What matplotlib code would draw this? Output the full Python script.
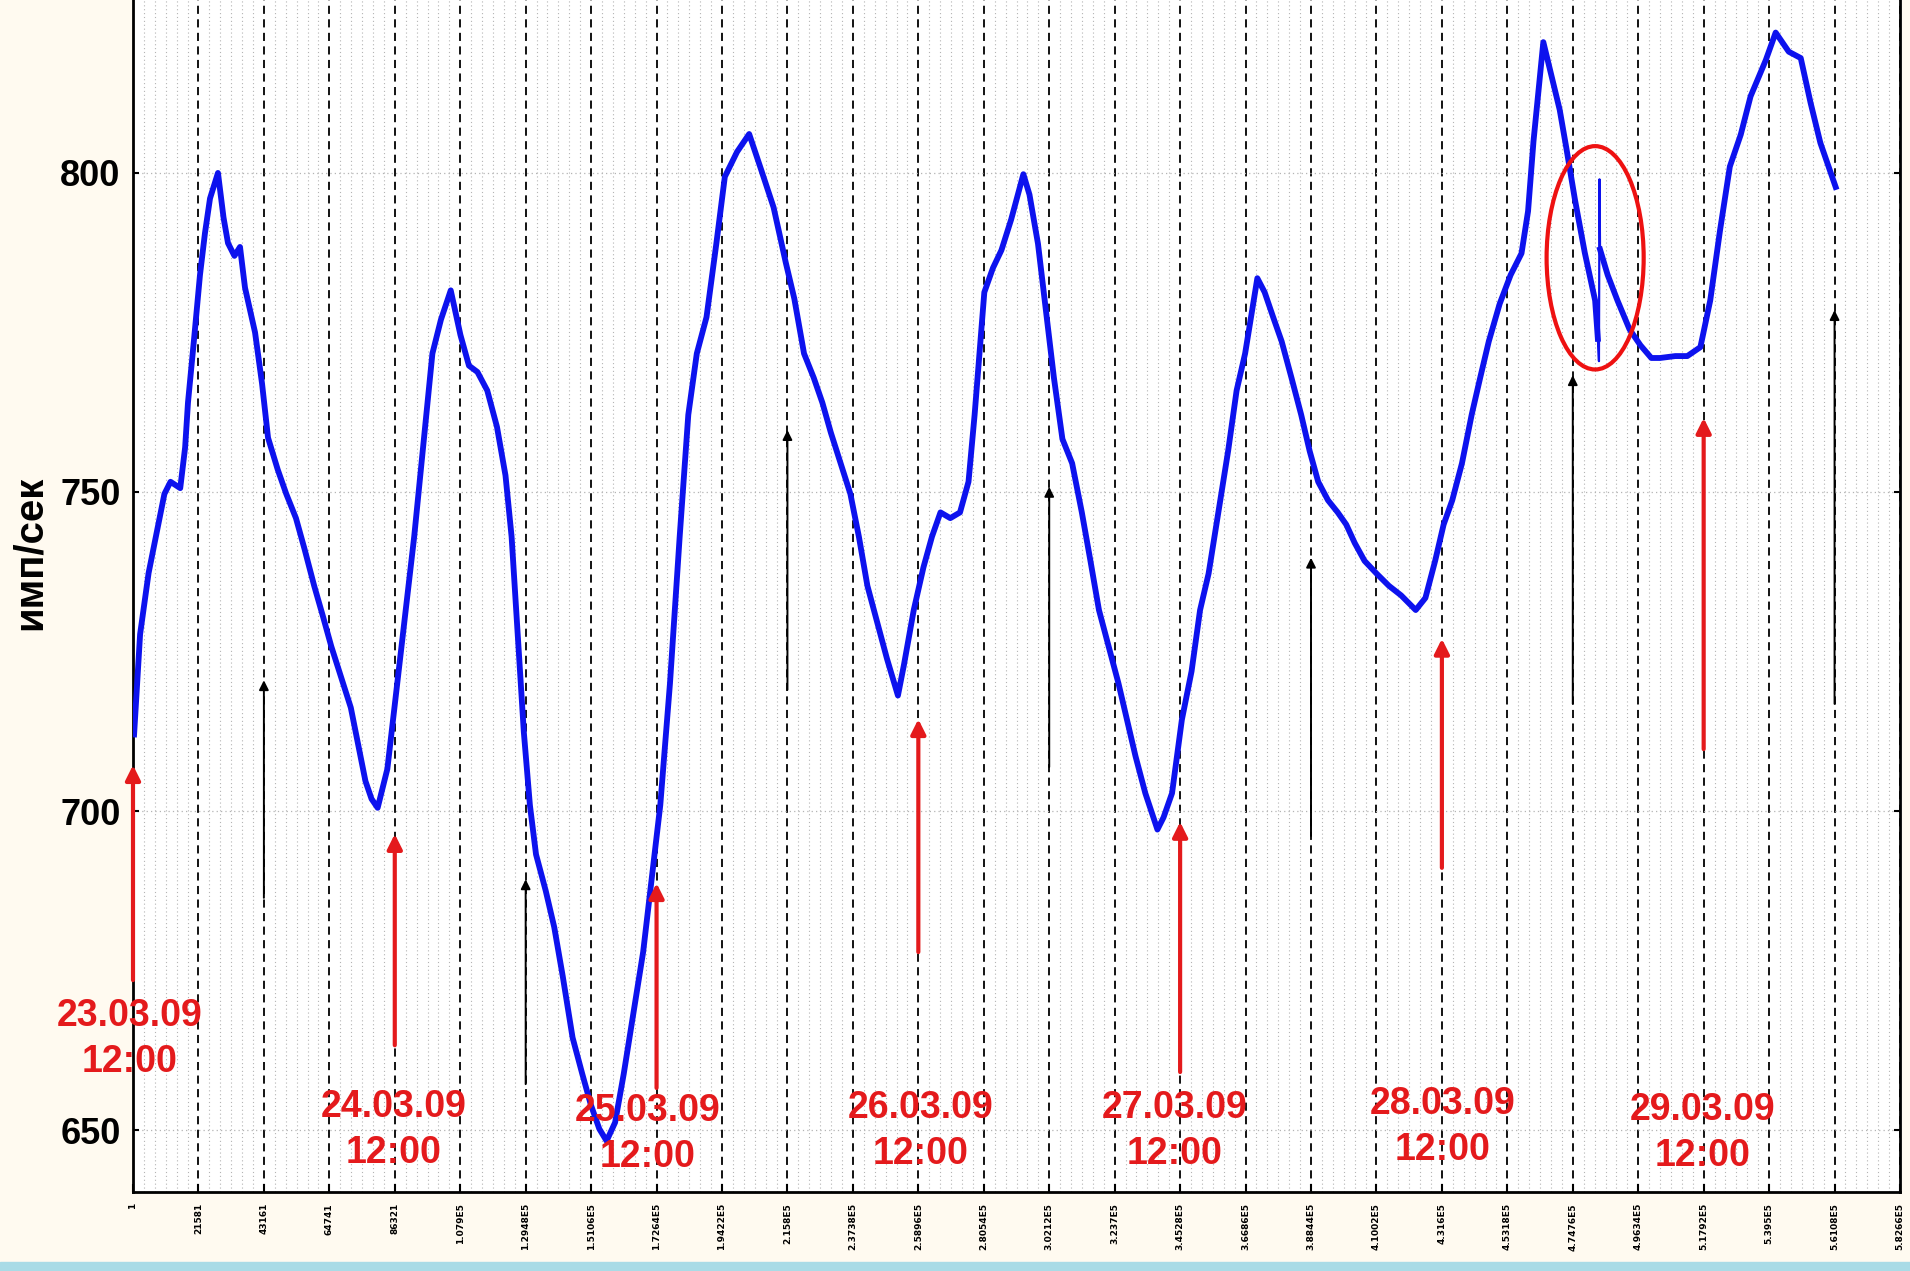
import matplotlib
matplotlib.use("Agg")
import matplotlib.pyplot as plt
from matplotlib.patches import Ellipse, Rectangle
from matplotlib.ticker import MultipleLocator, FixedLocator

plt.rcParams["font.family"] = ["Liberation Sans", "DejaVu Sans"]

nan = float("nan")

# hours since 23.03.09 12:00, count rate (imp/sec); nan marks the short spike drawn thin below
hours = [
    0.1, 0.65, 1.43, 2.32, 2.88, 3.44, 4.33, 4.78, 5.04, 5.6, 6.14, 6.6, 7.06, 7.79, 8.3, 8.71,
    9.3, 9.81, 10.27, 11.19, 11.83, 12.38, 13.27, 14.05, 14.94, 15.72, 16.61, 17.4, 18.18, 19.07,
    19.97, 20.75, 21.31, 21.87, 22.43, 23.32, 24.1, 24.88, 25.78, 26.67, 27.45, 28.23, 29.13, 30.02,
    30.8, 31.58, 32.48, 33.37, 34.15, 34.71, 35.27, 35.83, 36.39, 36.95, 37.84, 38.62, 39.4, 40.3,
    41.19, 41.97, 42.75, 43.42, 44.2, 44.99, 45.88, 46.77, 47.56, 48.34, 49.23, 50.12, 50.91, 51.69,
    52.58, 53.48, 54.26, 55.38, 56.49, 57.61, 58.73, 59.84, 60.63, 61.52, 62.41, 63.2, 63.98, 64.87,
    65.77, 66.55, 67.33, 68.23, 69.12, 70.13, 70.68, 71.58, 72.47, 73.25, 74.03, 74.93, 75.82, 76.6,
    77.16, 78.05, 78.84, 79.62, 80.51, 81.63, 82.19, 82.97, 83.64, 84.43, 85.21, 86.1, 86.99, 87.78,
    88.56, 89.45, 90.35, 91.13, 91.91, 92.81, 93.92, 94.48, 95.26, 96.16, 97.05, 97.83, 98.61, 99.51,
    100.4, 101.18, 101.96, 103.08, 103.75, 104.53, 105.31, 106.21, 107.1, 107.88, 108.66, 109.56,
    110.45, 111.23, 112.01, 112.91, 114.02, 115.14, 116.26, 117.6, 118.49, 119.38, 120.16, 120.95,
    121.84, 122.73, 123.51, 124.3, 125.3, 126.3, 127.3, 127.9, 128.4, 129.3, 130.8, 131.4, 132.2,
    133.1, 134.05, 134.3, nan, 134.5, 135.2, 136.1, 137.2, 138.2, 139.2, 140.0, 141.4,
    142.5, 143.7, 144.6, 145.5, 146.4, 147.4, 148.3, 149.7, 150.6, 151.8, 152.9, 153.8, 154.7, 156.1,
]
rate = [
    712.0, 727.7, 737.3, 744.9, 749.7, 751.6, 750.6, 757.0, 764.0, 774.0, 784.0, 790.6, 796.0, 800.0, 793.0, 789.0,
    787.0, 788.4, 782.0, 775.0, 767.0, 758.5, 753.5, 749.7, 745.9, 741.1, 735.3, 730.6, 725.8, 721.0,
    716.2, 709.5, 704.7, 701.9, 700.5, 706.6, 718.1, 729.6, 743.0, 758.3, 771.7, 777.0, 781.6, 774.6,
    769.8, 768.8, 765.9, 760.2, 752.6, 743.0, 727.7, 712.4, 700.9, 693.2, 687.5, 681.8, 674.1, 664.5,
    658.8, 654.0, 650.2, 648.3, 651.2, 658.8, 668.4, 677.9, 689.4, 700.9, 720.0, 743.0, 762.1, 771.7,
    777.4, 788.9, 799.4, 803.3, 806.1, 800.4, 794.6, 786.0, 780.3, 771.7, 767.9, 764.0, 759.3, 754.5,
    749.7, 743.0, 735.3, 729.6, 723.9, 718.1, 722.9, 731.5, 738.2, 743.0, 746.8, 745.9, 746.8, 751.6,
    762.1, 781.3, 785.1, 787.9, 792.7, 799.8, 796.6, 788.9, 779.3, 767.9, 758.3, 754.5, 746.8, 739.2,
    731.5, 725.8, 720.0, 714.3, 708.6, 702.8, 697.1, 699.0, 702.8, 714.3, 721.9, 731.5, 737.2, 746.8,
    756.4, 765.9, 771.7, 783.5, 781.3, 777.4, 773.6, 767.9, 762.1, 756.4, 751.6, 748.7,
    746.8, 744.9, 742.0, 739.2, 737.2, 735.3, 733.8, 731.5, 733.4, 739.2, 744.9, 748.7,
    754.5, 762.1, 767.9, 773.6, 779.5, 784.0, 787.4, 794.0, 805.0, 820.5, 809.9, 804.0, 795.8,
    787.5, 780.0, 774.0, nan, 788.0, 784.0, 780.0, 775.5, 773.0, 771.0, 771.0, 771.3,
    771.3, 772.7, 780.0, 791.0, 801.0, 806.0, 812.0, 817.7, 822.0, 819.0, 818.0, 811.0, 804.7, 797.8,
]

# short spike inside the red ellipse
spike_hours = [134.3, 134.4, 134.45, 134.5]
spike_rate = [774.0, 770.5, 799.0, 788.0]

# arrows: red at 12:00, black at 00:00 (hours, start value, tip value)
red_arrow_h = [0, 24, 48, 72, 96, 120, 144]
red_arrow_from = [673.5, 663.3, 656.6, 677.9, 659.1, 691.1, 709.7]
red_arrow_to = [707.2, 696.4, 688.7, 714.4, 698.3, 727.0, 761.6]
black_arrow_h = [12, 36, 60, 84, 108, 132, 156]
black_arrow_from = [686.4, 657.2, 719.0, 706.9, 696.1, 716.8, 716.8]
black_arrow_to = [720.5, 689.3, 759.7, 750.8, 739.7, 768.3, 778.5]

date_labels = ["23.03.09", "24.03.09", "25.03.09", "26.03.09", "27.03.09", "28.03.09", "29.03.09"]
date_label_h = [-0.3, 23.9, 47.2, 72.2, 95.5, 120.1, 143.9]
date_label_y = [664.3, 650.0, 649.4, 649.8, 649.8, 650.5, 649.5]

samples_per_tick = 21580
tick_hours = 6

W, H = 1910, 1271
fig = plt.figure(figsize=(W / 100, H / 100), dpi=100, facecolor="#fffaf0")
fig.patches.append(Rectangle((0, 0), 1, 9 / H, transform=fig.transFigure, color="#a9dbe6", zorder=0))
ax = fig.add_axes([133 / W, 79 / H, (1900 - 133) / W, 1192 / H])
ax.set_facecolor("white")

ax.set_xlim(0, 162)
ax.set_ylim(640.3, 827.1)

ax.xaxis.set_minor_locator(MultipleLocator(tick_hours / 6))
ax.yaxis.set_major_locator(FixedLocator([650, 700, 750, 800]))


def sample_label(h):
    v = 1 + round(h / tick_hours) * samples_per_tick
    if v < 100000:
        return str(v)
    return f"{v / 1e5:.5g}E5"


xt = [i * tick_hours for i in range(28)]
ax.set_xticks(xt)
ax.set_xticklabels([sample_label(h) for h in xt], rotation=90, fontsize=6.5, family="DejaVu Sans",
                   fontweight="bold", va="top")
ax.tick_params(axis="x", which="major", direction="in", length=6, width=1.5, pad=8)
ax.tick_params(axis="x", which="minor", length=0)
ax.tick_params(axis="y", which="major", direction="in", length=4, width=1.5, pad=9,
               labelsize=26, right=True)
for lab in ax.get_yticklabels():
    lab.set_fontweight("bold")

ax.grid(True, axis="x", which="major", color="black", linestyle=(0, (4.5, 3)), linewidth=1.3)
ax.grid(True, axis="x", which="minor", color="#b4b4b4", linestyle=(0, (1, 2.5)), linewidth=0.8)
ax.grid(True, axis="y", which="major", color="#b4b4b4", linestyle=(0, (1, 2.5)), linewidth=0.9)
ax.set_axisbelow(True)

for side in ["left", "bottom", "right"]:
    ax.spines[side].set_linewidth(2)
ax.spines["top"].set_visible(False)

ax.plot(hours, rate, color="#0d12ee", linewidth=4.2, solid_joinstyle="round", zorder=3)
ax.plot(spike_hours, spike_rate, color="#0d12ee", linewidth=1.6, zorder=3)

for h, y0, y1 in zip(red_arrow_h, red_arrow_from, red_arrow_to):
    ax.annotate("", xy=(h, y1), xytext=(h, y0), annotation_clip=False,
                arrowprops=dict(arrowstyle="-|>", color="#e41a1c", lw=3, mutation_scale=22,
                                shrinkA=0, shrinkB=0), zorder=4)
for h, y0, y1 in zip(black_arrow_h, black_arrow_from, black_arrow_to):
    ax.annotate("", xy=(h, y1), xytext=(h, y0),
                arrowprops=dict(arrowstyle="-|>", color="black", lw=1.4, mutation_scale=14,
                                shrinkA=0, shrinkB=0), zorder=4)

for txt, h, y in zip(date_labels, date_label_h, date_label_y):
    ax.text(h, y, txt + "\n12:00", color="#e41a1c", fontsize=27, fontweight="bold",
            ha="center", va="center", linespacing=1.35, zorder=5)

ax.add_patch(Ellipse((134.05, 786.7), 8.9, 35.0, fill=False, edgecolor="#ee1111",
                     linewidth=3, zorder=6))

fig.text(30 / W, 1 - 553 / H, "имп/сек", rotation=90, fontsize=29, fontweight="bold",
         ha="center", va="center")

fig.savefig("out.png", dpi=100, facecolor=fig.get_facecolor())
